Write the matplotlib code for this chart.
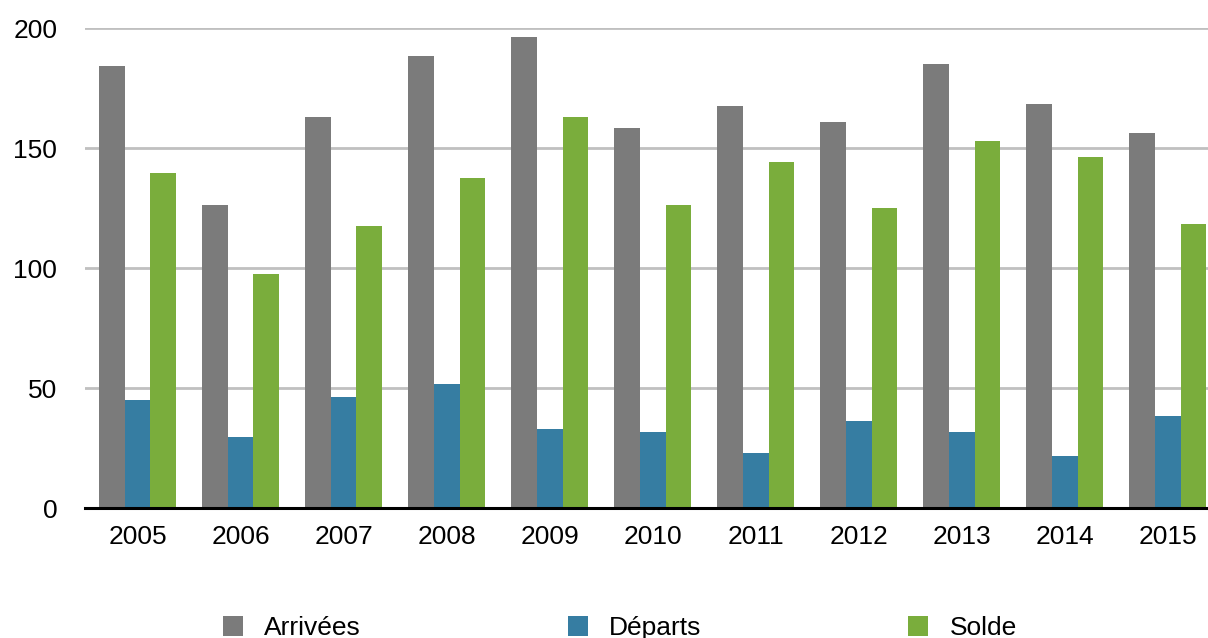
import matplotlib.pyplot as plt
import numpy as np
from matplotlib.patches import Patch

plt.rcParams['font.family'] = ['Liberation Sans', 'DejaVu Sans']

# Données
annees = ['2005', '2006', '2007', '2008', '2009', '2010', '2011', '2012', '2013', '2014', '2015']
arrivees = [184.2, 126.3, 162.9, 188.3, 196.3, 158.3, 167.5, 160.8, 185.0, 168.3, 156.3]
departs = [45.0, 29.6, 46.3, 51.7, 32.9, 31.7, 22.9, 36.3, 31.7, 21.7, 38.3]
solde = [139.6, 97.5, 117.5, 137.5, 162.9, 126.3, 144.2, 125.0, 152.9, 146.3, 118.3]

series = [
    (arrivees, 'Arrivées', '#7b7b7b'),
    (departs, 'Départs', '#367da2'),
    (solde, 'Solde', '#7aad3c'),
]

fig = plt.figure(figsize=(12.08, 6.38), dpi=100)
ax = fig.add_axes([85 / 1208, 130 / 638, 1 - 85 / 1208, 480 / 638])

x = np.arange(len(annees))
largeur = 0.25
for i, (valeurs, nom, couleur) in enumerate(series):
    ax.bar(x + (i - 1) * largeur, valeurs, width=largeur, color=couleur,
           label=nom, zorder=3, linewidth=0)

ax.set_ylim(0, 200)
ax.set_xlim(-0.51, 10.39)
ax.set_yticks([0, 50, 100, 150, 200])
ax.set_xticks(x)
ax.set_xticklabels(annees)

# Grille horizontale
ax.grid(axis='y', color='#c0c0c0', linewidth=2, zorder=0)
ax.grid(axis='x', visible=False)
ax.axhline(0, color='black', linewidth=2.2, zorder=4, clip_on=False)

for s in ax.spines.values():
    s.set_visible(False)
ax.tick_params(axis='both', length=0, labelsize=19)
ax.tick_params(axis='y', pad=20)
ax.tick_params(axis='x', pad=12)

handles = [Patch(facecolor=c, edgecolor='none') for _, _, c in series]
labels = [n for _, n, _ in series]
fig.legend(handles, labels, loc='center', bbox_to_anchor=(0.513, 0.016),
           ncol=3, frameon=False, fontsize=19, handlelength=0.76,
           handleheight=0.83, handletextpad=0.8, columnspacing=7.85,
           borderpad=0, borderaxespad=0)

fig.savefig('out.png', dpi=100)
